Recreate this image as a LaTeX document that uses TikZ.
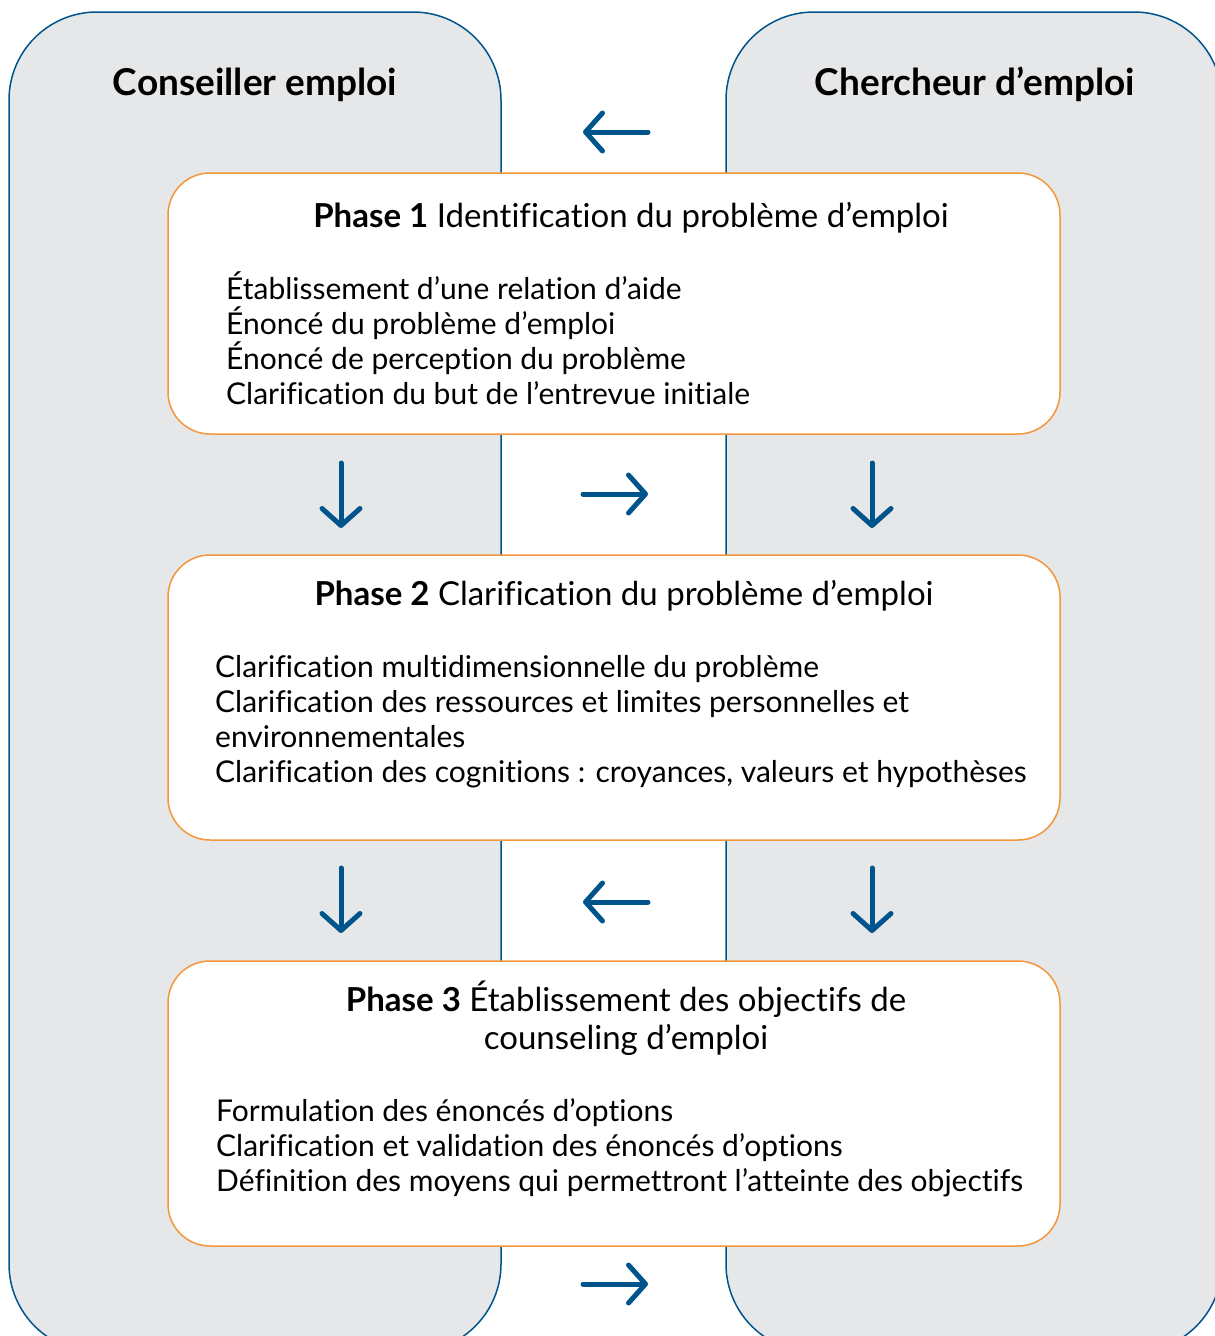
\documentclass[tikz,border=0pt]{standalone}
\usepackage{fontspec}
\setmainfont{Lato}[Ligatures={NoCommon}]
\usetikzlibrary{arrows.meta}
\definecolor{pblue}{RGB}{0,84,140}
\definecolor{porange}{RGB}{243,150,60}
\definecolor{pgray}{RGB}{230,231,232}
\begin{document}
\begin{tikzpicture}[x=1pt,y=-1pt,
  panel/.style={draw=pblue,line width=1.5pt,fill=pgray,rounded corners=88pt},
  phasebox/.style={draw=porange,line width=1.5pt,fill=white,rounded corners=42pt},
  flow/.style={draw=pblue,line width=5pt,line cap=round,-{Straight Barb[length=17pt,width=38pt,round]}},
  item/.style={anchor=base west,inner sep=0pt,font=\fontsize{30}{35}\selectfont},
  ptitle/.style={anchor=base,inner sep=0pt,font=\fontsize{33}{38}\selectfont},
  head/.style={anchor=base,inner sep=0pt,font=\fontsize{37}{40}\selectfont\bfseries}]
\useasboundingbox (0,0) rectangle (1215,1336);
\begin{scope}
\clip (0,0) rectangle (1215,1336);
\draw[panel] (9,12) rectangle (501,1352);
\draw[panel] (726,12) rectangle (1222,1352);
\end{scope}
\node[head] (hleft) at (255,95) {Conseiller emploi};
\node[head] (hright) at (975,95) {Chercheur d’emploi};
% phase boxes
\draw[phasebox] (168,173) rectangle (1060,434);
\draw[phasebox] (168,555) rectangle (1060,840);
\draw[phasebox] (168,961) rectangle (1060,1246);
% phase 1
\node[ptitle] (t1) at (631,227) {\textbf{Phase 1} Identification du problème d’emploi};
\node[item] (a1) at (226,299) {Établissement d’une relation d’aide};
\node[item] (a2) at (226,334) {Énoncé du problème d’emploi};
\node[item] (a3) at (226,369) {Énoncé de perception du problème};
\node[item] (a4) at (226,404) {Clarification du but de l’entrevue initiale};
% phase 2
\node[ptitle] (t2) at (624,605) {\textbf{Phase 2} Clarification du problème d’emploi};
\node[item] (b1) at (215,677) {Clarification multidimensionnelle du problème};
\node[item] (b2) at (215,712) {Clarification des ressources et limites personnelles et};
\node[item] (b3) at (215,747) {environnementales};
\node[item] (b4) at (215,782) {Clarification des cognitions : croyances, valeurs et hypothèses};
% phase 3
\node[ptitle] (t3a) at (626,1011) {\textbf{Phase 3} Établissement des objectifs de};
\node[ptitle] (t3b) at (626,1049) {counseling d’emploi};
\node[item] (c1) at (216,1121) {Formulation des énoncés d’options};
\node[item] (c2) at (216,1156) {Clarification et validation des énoncés d’options};
\node[item] (c3) at (216,1191) {Définition des moyens qui permettront l’atteinte des objectifs};
% arrows
\coordinate (h1s) at (648,132); \coordinate (h1e) at (583,132);
\coordinate (h2s) at (583,494); \coordinate (h2e) at (648,494);
\coordinate (h3s) at (648,902); \coordinate (h3e) at (583,902);
\coordinate (h4s) at (583,1284); \coordinate (h4e) at (648,1284);
\coordinate (d1s) at (341,463); \coordinate (d1e) at (341,528);
\coordinate (d2s) at (872,463); \coordinate (d2e) at (872,528);
\coordinate (d3s) at (341,868); \coordinate (d3e) at (341,933);
\coordinate (d4s) at (872,868); \coordinate (d4e) at (872,933);
\draw[flow] (h1s) -- (h1e);
\draw[flow] (h2s) -- (h2e);
\draw[flow] (h3s) -- (h3e);
\draw[flow] (h4s) -- (h4e);
\draw[flow] (d1s) -- (d1e);
\draw[flow] (d2s) -- (d2e);
\draw[flow] (d3s) -- (d3e);
\draw[flow] (d4s) -- (d4e);
\end{tikzpicture}
\end{document}
